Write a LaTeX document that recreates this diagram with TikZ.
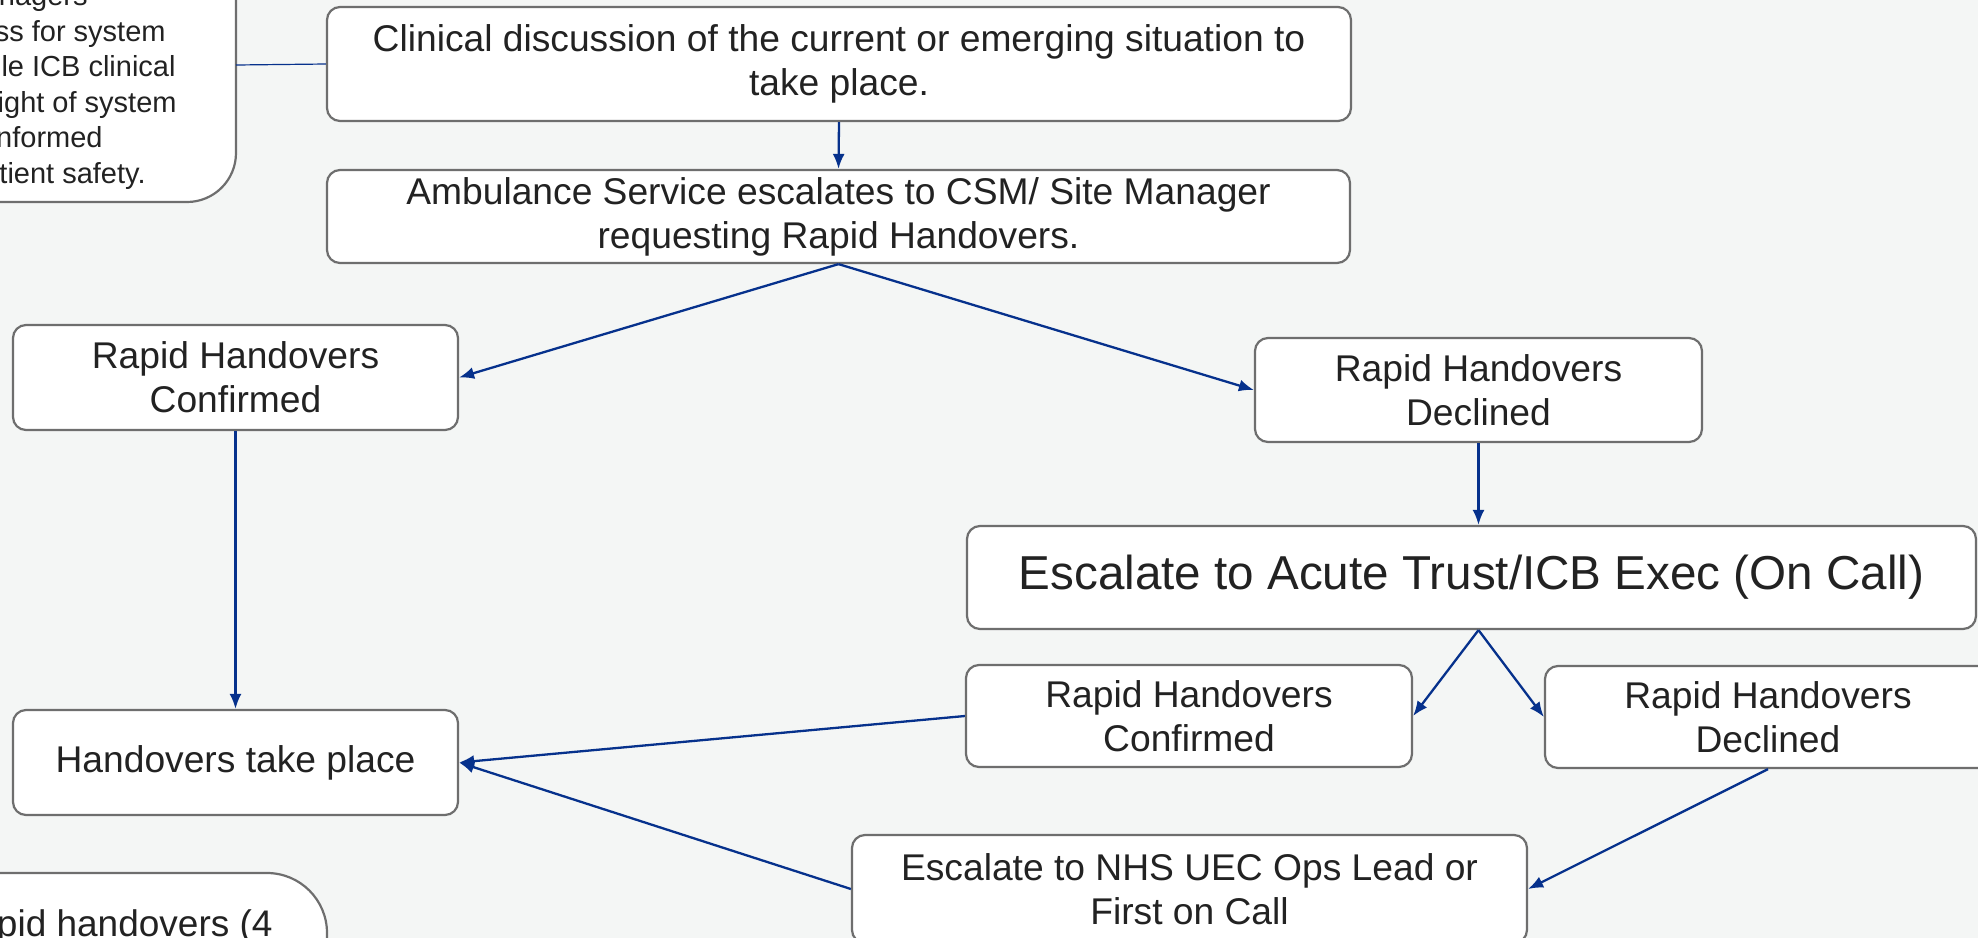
\documentclass[tikz,border=0pt]{standalone}
\usepackage{fontspec}
\setmainfont{Liberation Sans}
\usetikzlibrary{arrows.meta}
\definecolor{pagebg}{HTML}{F4F6F5}
\definecolor{edgegray}{HTML}{6E6E6E}
\definecolor{flowblue}{HTML}{06318C}
\definecolor{inkgray}{HTML}{222222}
\tikzset{>={Latex[length=7.5pt,width=6pt]}}
\tikzset{
  panel/.style={draw=edgegray, line width=1.1pt, fill=white},
  box/.style={panel, rounded corners=6.5pt, align=center, text=inkgray,
    font=\fontsize{18.6}{22}\selectfont, inner sep=0pt},
  notetext/.style={text=inkgray, font=\fontsize{14.5}{18}\selectfont, inner sep=0pt},
  flow/.style={->, draw=flowblue, line width=1.15pt},
}

\begin{document}
\begin{tikzpicture}[x=0.5pt,y=-0.5pt]
  \fill[pagebg] (0,0) rectangle (1978,938);
  \useasboundingbox (0,0) rectangle (1978,938);
  \clip (0,0) rectangle (1978,938);

  % side notes, cut off at the page edge
  \draw[panel, rounded corners=24.5pt] (-80,-80) rectangle (236,202);
  \coordinate (noteR) at (236,65);
  \node[notetext, anchor=base east] (n1) at (88,5) {nagers};
  \node[notetext, anchor=base east] (n2) at (166,41) {ss for system};
  \node[notetext, anchor=base east] (n3) at (176,76) {le ICB clinical};
  \node[notetext, anchor=base east] (n4) at (177,112) {ight of system};
  \node[notetext, anchor=base east] (n5) at (103,147) {nformed};
  \node[notetext, anchor=base east] (n6) at (146,183) {tient safety.};

  \draw[panel, rounded corners=30pt] (-80,873) rectangle (327,1040);
  \node[notetext, font=\fontsize{18.5}{22}\selectfont, anchor=base east] (n7)
    at (273,936) {pid handovers (4};

  % flow boxes
  \node[box, minimum width=512pt, minimum height=57pt] (clin) at (839,64)
    {Clinical discussion of the current or emerging situation to\\take place.};
  \node[box, minimum width=511.5pt, minimum height=46.5pt] (amb) at (838.5,216.5)
    {Ambulance Service escalates to CSM/ Site Manager\\requesting Rapid Handovers.};
  \node[box, minimum width=222.5pt, minimum height=52.5pt] (conf) at (235.5,377.5)
    {Rapid Handovers\\Confirmed};
  \node[box, minimum width=223.5pt, minimum height=52pt] (decl) at (1478.5,390)
    {Rapid Handovers\\Declined};
  \node[box, minimum width=504.5pt, minimum height=51.5pt,
    font=\fontsize{23.8}{29}\selectfont] (acute) at (1471.5,577.5)
    {Escalate to Acute Trust/ICB Exec (On Call)};
  \node[box, minimum width=223pt, minimum height=51pt] (conf2) at (1189,716)
    {Rapid Handovers\\Confirmed};
  \node[box, minimum width=223pt, minimum height=51pt] (decl2) at (1768,717)
    {Rapid Handovers\\Declined};
  \node[box, minimum width=222.5pt, minimum height=52.5pt] (hand) at (235.5,762.5)
    {Handovers take place};
  \node[box, minimum width=337.5pt, minimum height=54pt] (nhs) at (1189.5,889)
    {Escalate to NHS UEC Ops Lead or\\First on Call};

  % connectors
  \draw[flowblue, line width=0.6pt] (noteR) -- (clin.west);
  \draw[flow] (clin.south) -- (amb.north);
  \draw[flow] (amb.south) -- (conf.east);
  \draw[flow] (amb.south) -- (decl.west);
  \draw[flow] (conf.south) -- (hand.north);
  \draw[flow] (decl.south) -- (decl.south |- acute.north);
  \coordinate (fork) at (decl.south |- acute.south);
  \draw[flow] (fork) -- (conf2.east);
  \draw[flow] (fork) -- (decl2.west);
  \draw[flow] (conf2.west) -- (hand.east);
  \draw[flow] (nhs.west) -- (hand.east);
  \draw[flow] (decl2.south) -- (nhs.east);
\end{tikzpicture}
\end{document}
